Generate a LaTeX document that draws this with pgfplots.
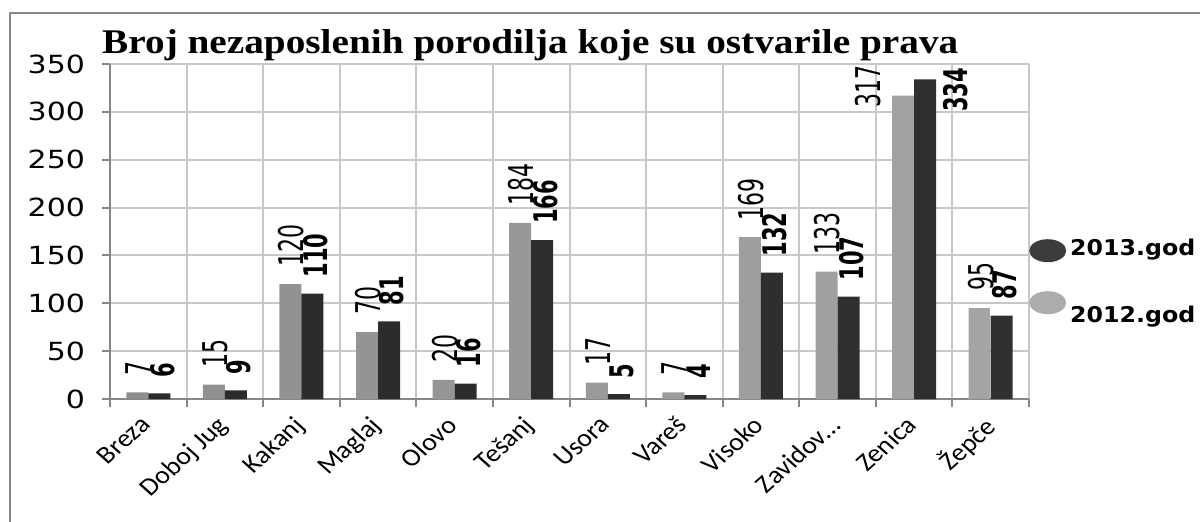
\documentclass[border=0pt]{standalone}
\usepackage{pgfplots}
\pgfplotsset{compat=1.18}
\usepackage{pgfplotstable}
\usepackage{graphicx}
\usepackage{fontspec}
\setmainfont{DejaVu Sans}
\newfontfamily\cb{Carlito}
\newfontfamily\ls{Liberation Serif}
\definecolor{gridc}{HTML}{C8C8C8}
\definecolor{axc}{HTML}{878787}
\definecolor{la}{HTML}{8E8E8E}
\definecolor{lb}{HTML}{CECECE}
\definecolor{lc}{HTML}{A4A4A4}
\definecolor{da}{HTML}{2A2A2A}
\definecolor{db}{HTML}{565656}
\definecolor{dc}{HTML}{303030}

\pgfplotstableread{
x y dx dy lab
0 7 -10 17 7
1 15 -10 17 15
2 120 -10 17 120
3 70 -10 17 70
4 20 -10 17 20
5 184 -10 17 184
6 17 -10 17 17
7 7 -10 17 7
8 169 -10 17 169
9 133 -10 17 133
10 317 -46 -12.4 317
11 95 -10 17 95
}\dA
\pgfplotstableread{
x y dx dy lab
0 6 14 16 6
1 9 14 16 9
2 110 14 16 110
3 81 14 16 81
4 16 14 16 16
5 166 14 16 166
6 5 14 16 5
7 4 14 16 4
8 132 14 16 132
9 107 14 16 107
10 334 42 -32.6 334
11 87 14 16 87
}\dB

\begin{document}
\begin{tikzpicture}
\path[use as bounding box] (0pt,0pt) rectangle (1200pt,-522pt);
\begin{axis}[
  at={(110pt,-399pt)}, anchor=south west,
  scale only axis, width=919pt, height=335pt,
  xmin=-0.5, xmax=11.5, ymin=0, ymax=350,
  axis x line*=bottom, axis y line*=left,
  axis line style={axc, line width=2.5pt},
  xtick={-0.5,0.5,...,11.5},
  xticklabels={Breza,Doboj Jug,Kakanj,Maglaj,Olovo,Tešanj,Usora,Vareš,Visoko,Zavidov…,Zenica,Žepče,{}},
  ytick={0,50,...,350},
  yticklabels={0,50,100,150,200,250,300,350},
  xmajorgrids, ymajorgrids,
  grid style={gridc, line width=2pt},
  tick align=outside, major tick length=8pt,
  tick style={axc, line width=2pt},
  x tick label style={font=\cb\fontsize{25}{25}\selectfont, xshift=29pt, yshift=-6pt, xscale=1.12, rotate=45, anchor=north east, inner sep=1pt},
  y tick label style={font=\fontsize{25}{25}\selectfont, xscale=1.2, anchor=east, inner sep=0pt, xshift=-14pt},
  clip=false,
  point meta=explicit symbolic,
  nodes near coords,
  every node near coord/.append style={xshift=\ldx pt, yshift=\ldy pt, xscale=1.55, rotate=90, anchor=west, inner sep=0pt, text=black},
]
\addplot[ybar, bar width=22pt, bar shift=-11pt, draw=none, left color=la, middle color=lb, right color=lc,
  visualization depends on={\thisrow{dx} \as \ldx},
  visualization depends on={\thisrow{dy} \as \ldy},
  every node near coord/.append style={font=\fontsize{22}{22}\selectfont}]
  table[x=x, y=y, meta=lab] {\dA};
\addplot[ybar, bar width=22pt, bar shift=11pt, draw=none, left color=da, middle color=db, right color=dc,
  visualization depends on={\thisrow{dx} \as \ldx},
  visualization depends on={\thisrow{dy} \as \ldy},
  every node near coord/.append style={font=\bfseries\fontsize{21}{21}\selectfont}]
  table[x=x, y=y, meta=lab] {\dB};
\end{axis}
\node[anchor=base west, inner sep=0pt] at (102pt,-53pt) {\resizebox{856pt}{24pt}{\ls\bfseries Broj nezaposlenih porodilja koje su ostvarile prava}};
\fill[color={rgb,255:red,60;green,60;blue,60}] (1047.7pt,-250.7pt) ellipse [x radius=18.5pt, y radius=11.5pt];
\fill[color={rgb,255:red,172;green,172;blue,172}] (1047.7pt,-302.7pt) ellipse [x radius=18.5pt, y radius=11.5pt];
\node[anchor=base west, inner sep=0pt] at (1070pt,-255pt) {\resizebox{125pt}{16.5pt}{\bfseries 2013.god}};
\node[anchor=base west, inner sep=0pt] at (1070pt,-322pt) {\resizebox{125pt}{16.5pt}{\bfseries 2012.god}};
\draw[axc, line width=2.5pt] (10pt,-13pt) rectangle (1215pt,-540pt);
\end{tikzpicture}
\end{document}
